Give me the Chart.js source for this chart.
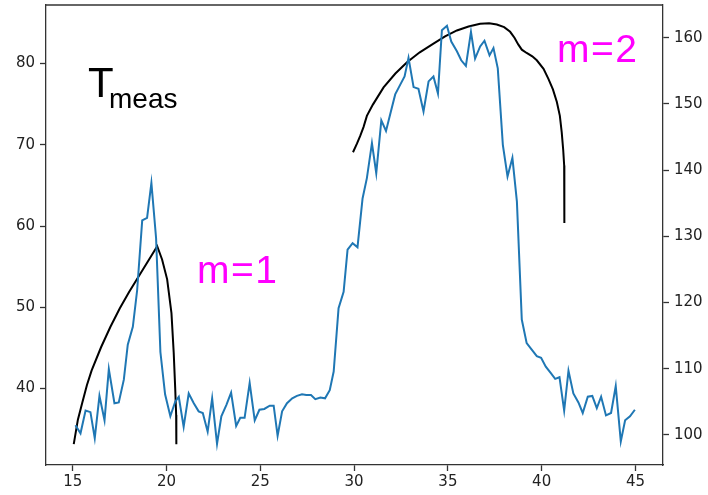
<!DOCTYPE html>
<html>
<head>
<meta charset="utf-8">
<script src="https://cdn.jsdelivr.net/npm/chart.js@4"></script>
<style>
html,body{margin:0;padding:0;background:#fff;}
#wrap{position:relative;width:708px;height:495px;}
canvas{display:block;}
</style>
</head>
<body>
<div id="wrap"><canvas id="c" width="708" height="495"></canvas></div>
<script>
// Tick labels
const xTicks = [15, 20, 25, 30, 35, 40, 45];
const leftTicks = [40, 50, 60, 70, 80];
const rightTicks = [100, 110, 120, 130, 140, 150, 160];

// Measured temperature (left axis)
const measX = [15.14,15.41,15.68,15.94,16.17,16.42,16.69,16.92,17.22,17.45,17.72,17.93,18.2,18.43,18.7,18.96,19.19,19.44,19.67,19.92,
20.2,20.46,20.65,20.91,21.18,21.45,21.71,21.93,22.19,22.43,22.69,22.92,23.19,23.44,23.71,23.93,24.16,24.43,24.7,24.95,
25.21,25.5,25.71,25.92,26.16,26.42,26.7,26.95,27.22,27.45,27.7,27.93,28.2,28.45,28.7,28.91,29.17,29.44,29.65,29.92,
30.18,30.45,30.68,30.95,31.18,31.45,31.7,31.96,32.19,32.46,32.69,32.9,33.17,33.43,33.7,33.97,34.23,34.47,34.68,34.95,
35.18,35.48,35.71,35.96,36.23,36.45,36.72,36.95,37.22,37.43,37.66,37.93,38.18,38.44,38.68,38.94,39.2,39.47,39.74,39.97,
40.22,40.49,40.72,40.95,41.2,41.43,41.69,41.96,42.19,42.46,42.7,42.94,43.17,43.43,43.7,43.95,44.22,44.45,44.71,44.97];
const measY = [35.5,34.5,37.3,37.1,33.9,39.1,36.1,42.4,38.2,38.3,41.1,45.4,47.6,52.1,60.7,61.0,65.3,58.5,44.5,39.3,
36.6,38.4,39.0,35.3,39.4,38.2,37.2,37.0,34.7,38.8,33.2,36.6,38.0,39.5,35.4,36.4,36.4,40.7,36.1,37.4,
37.5,37.9,37.9,34.2,37.2,38.2,38.8,39.1,39.3,39.2,39.2,38.7,38.9,38.8,39.8,42.1,49.9,51.9,57.1,57.9,
57.4,63.4,65.9,70.2,66.5,73.0,71.7,74.1,76.2,77.4,78.4,80.7,77.1,76.9,74.1,77.8,78.4,76.3,84.1,84.65,
82.7,81.5,80.4,79.7,83.9,80.6,82.1,82.8,81.0,81.9,79.4,70.0,66.1,68.4,63.0,48.5,45.6,44.8,44.0,43.8,
42.7,41.9,41.2,41.4,37.3,42.2,39.4,38.3,37.0,39.0,39.1,37.6,39.0,36.7,37.0,40.3,33.5,36.1,36.6,37.4];

// Model curve m=1 (right axis)
const m1X = [15.05,15.27,15.5,15.75,16.0,16.5,17.0,17.5,18.0,18.5,19.0,19.5,19.76,20.03,20.26,20.38,20.46,20.51,20.52];
const m1Y = [98.6,102.3,104.8,107.5,109.7,113.2,116.3,119.1,121.6,123.9,126.2,128.5,126.5,123.5,118.4,112.4,107.0,103.0,98.6];

// Model curve m=2 (right axis)
const m2X = [29.94,30.15,30.33,30.5,30.68,31.0,31.57,32.2,32.82,33.5,34.23,34.85,35.48,36.1,36.72,37.2,37.61,38.0,38.32,38.55,38.75,38.94,39.2,39.5,39.74,40.1,40.36,40.6,40.81,40.97,41.07,41.15,41.2,41.21];
const m2Y = [142.7,144.0,145.2,146.5,148.2,149.9,152.5,154.6,156.3,157.8,159.1,160.2,161.1,161.7,162.1,162.2,162.0,161.6,160.9,160.0,159.0,158.2,157.7,157.2,156.6,155.3,153.8,152.2,150.3,148.2,145.7,143.0,140.7,132.0];

const pts = (xs, ys) => xs.map((x, i) => ({x: x, y: ys[i]}));

const AX = '#333333';
const tickFont = {family: 'DejaVu Sans', size: 15};

const annot = {
  id: 'annot',
  afterDraw(chart) {
    const ctx = chart.ctx;
    const a = chart.chartArea;
    ctx.save();
    // top spine
    ctx.strokeStyle = AX;
    ctx.lineWidth = 1.3;
    ctx.beginPath();
    ctx.moveTo(a.left, a.top);
    ctx.lineTo(a.right, a.top);
    ctx.stroke();
    ctx.textBaseline = 'alphabetic';
    ctx.textAlign = 'left';
    ctx.fillStyle = '#000';
    ctx.font = '42px "Liberation Sans"';
    ctx.fillText('T', 88, 97);
    ctx.font = '28px "Liberation Sans"';
    ctx.fillText('meas', 109, 108);
    ctx.fillStyle = '#ff00ff';
    ctx.font = '39px "Liberation Sans"';
    ctx.letterSpacing = '1.5px';
    ctx.fillText('m=1', 197, 283);
    ctx.fillText('m=2', 557, 62);
    ctx.restore();
  }
};

const fixTicks = (vals) => (axis) => { axis.ticks = vals.map(v => ({value: v})); };
const noPad = (s) => { s.paddingTop = 0; s.paddingBottom = 0; s.paddingLeft = 0; s.paddingRight = 0; };

new Chart(document.getElementById('c'), {
  type: 'line',
  data: {
    datasets: [
      {data: pts(measX, measY), yAxisID: 'y', borderColor: '#1f77b4', borderWidth: 2, pointRadius: 0, tension: 0},
      {data: pts(m1X, m1Y), yAxisID: 'y2', borderColor: '#000000', borderWidth: 2, pointRadius: 0, tension: 0},
      {data: pts(m2X, m2Y), yAxisID: 'y2', borderColor: '#000000', borderWidth: 2, pointRadius: 0, tension: 0}
    ]
  },
  options: {
    responsive: false,
    animation: false,
    events: [],
    layout: {padding: {top: 5, left: 0, right: 0, bottom: 0}},
    plugins: {legend: {display: false}, tooltip: {enabled: false}},
    scales: {
      x: {
        type: 'linear', position: 'bottom', min: 13.57, max: 46.47,
        afterBuildTicks: fixTicks(xTicks),
        afterFit: (s) => { s.height = 30; noPad(s); },
        grid: {drawOnChartArea: false, drawTicks: true, tickLength: 6, color: AX, tickWidth: 1.3},
        border: {display: true, color: AX, width: 1.3},
        ticks: {font: tickFont, color: '#222', padding: 2, maxRotation: 0, callback: v => String(v)}
      },
      y: {
        type: 'linear', position: 'left', min: 30.6, max: 87.2,
        afterBuildTicks: fixTicks(leftTicks),
        afterFit: (s) => { s.width = 46; noPad(s); },
        grid: {drawOnChartArea: false, drawTicks: true, tickLength: 6, color: AX, tickWidth: 1.3},
        border: {display: true, color: AX, width: 1.3},
        ticks: {font: tickFont, color: '#222', padding: 5, callback: v => String(v)}
      },
      y2: {
        type: 'linear', position: 'right', min: 95.45, max: 164.95,
        afterBuildTicks: fixTicks(rightTicks),
        afterFit: (s) => { s.width = 45; noPad(s); },
        grid: {drawOnChartArea: false, drawTicks: true, tickLength: 6, color: AX, tickWidth: 1.3},
        border: {display: true, color: AX, width: 1.3},
        ticks: {font: tickFont, color: '#222', padding: 5, callback: v => String(v)}
      }
    }
  },
  plugins: [annot]
});
</script>
</body>
</html>
